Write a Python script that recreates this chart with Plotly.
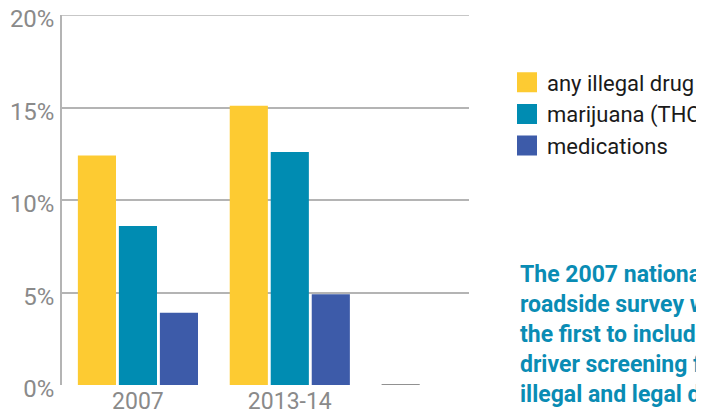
import plotly.graph_objects as go

categories = ["2007", "2013-14", " "]
any_illegal_drug = [12.4, 15.1, 0]
marijuana_thc = [8.6, 12.6, None]
medications = [3.9, 4.9, None]
y_tick_values = [0, 5, 10, 15, 20]
y_tick_labels = ["0%", "5%", "10%", "15%", "20%"]
note_lines = [
    "The 2007 national",
    "roadside survey was",
    "the first to include",
    "driver screening for",
    "illegal and legal drugs",
]

YELLOW = "#FDCB32"
TEAL = "#008CB2"
BLUE = "#3D5BA9"
GRID = "#b4b4b4"
FONT = "Roboto, Liberation Sans, sans-serif"

fig = go.Figure()
series = [
    ("any illegal drug", any_illegal_drug, YELLOW),
    ("marijuana (THC)", marijuana_thc, TEAL),
    ("medications", medications, BLUE),
]
for i, (name, vals, col) in enumerate(series):
    lw = [0, 0, 1.5] if i == 0 else 0
    fig.add_trace(go.Bar(
        x=categories, y=vals, name=name, showlegend=False,
        marker=dict(color=col, line=dict(color="#6e6e6e", width=lw)),
        hoverinfo="skip",
    ))
    fig.add_trace(go.Scatter(
        x=[None], y=[None], mode="markers", name=name, legendgroup=name,
        marker=dict(symbol="square", size=16, color=col, line=dict(color=col, width=4)),
    ))

# page offset of the figure (browser default body margin)
OFF = 8
W, H = 704, 411
# plot area in page pixels: x 62..469, y 15..385
ml = 62 - OFF
mt = 15 - OFF
mr = W - (469 - OFF)
mb = H - (385 - OFF)
pw = W - ml - mr
ph = H - mt - mb

def fx(px):
    return (px - OFF - ml) / pw

def fy(py):
    return (H - mb - (py - OFF)) / ph

for k, line in enumerate(note_lines):
    fig.add_annotation(
        text=line, xref="paper", yref="paper",
        x=fx(518), y=fy(274 + 30 * k),
        xanchor="left", yanchor="middle",
        showarrow=False, font=dict(family=FONT, size=23, color="#0a8cb4", weight="bold"),
    )

# top gridline at the axis maximum (plotly drops gridlines at the range edge)
fig.add_shape(
    type="line", xref="paper", yref="y", x0=0, x1=1,
    y0=y_tick_values[-1], y1=y_tick_values[-1],
    line=dict(color=GRID, width=1.5), layer="below",
)

fig.update_layout(
    width=W, height=H,
    margin=dict(l=ml, r=mr, t=mt, b=mb, pad=0),
    paper_bgcolor="white", plot_bgcolor="white",
    barmode="group", bargap=0.19, bargroupgap=0.07,
    legend=dict(
        xref="container", yref="container",
        x=(507 - OFF) / W, y=1 - (66 - OFF - 4.5) / H, xanchor="left", yanchor="top",
        font=dict(family=FONT, size=22, color="#1a1a1a"),
        tracegroupgap=0, itemsizing="trace", bgcolor="rgba(0,0,0,0)",
    ),
    xaxis=dict(
        type="category", range=[-0.5, 2.18], showgrid=False, showline=False,
        zeroline=False, ticks="", tickvals=categories[:2], ticktext=categories[:2],
        tickfont=dict(family=FONT, size=23, color="#8a8a8a"),
        automargin=False, ticklabeloverflow="allow",
    ),
    yaxis=dict(
        range=[0, 20], tickvals=y_tick_values, ticktext=y_tick_labels,
        showgrid=True, gridcolor=GRID, gridwidth=1.5, zeroline=False,
        showline=True, linecolor=GRID, linewidth=1.5, ticks="",
        ticklabelstandoff=1, ticklabelshift=4, automargin=False,
        ticklabeloverflow="allow",
        tickfont=dict(family=FONT, size=24, color="#8a8a8a"),
    ),
)

fig.write_html("out.html")
